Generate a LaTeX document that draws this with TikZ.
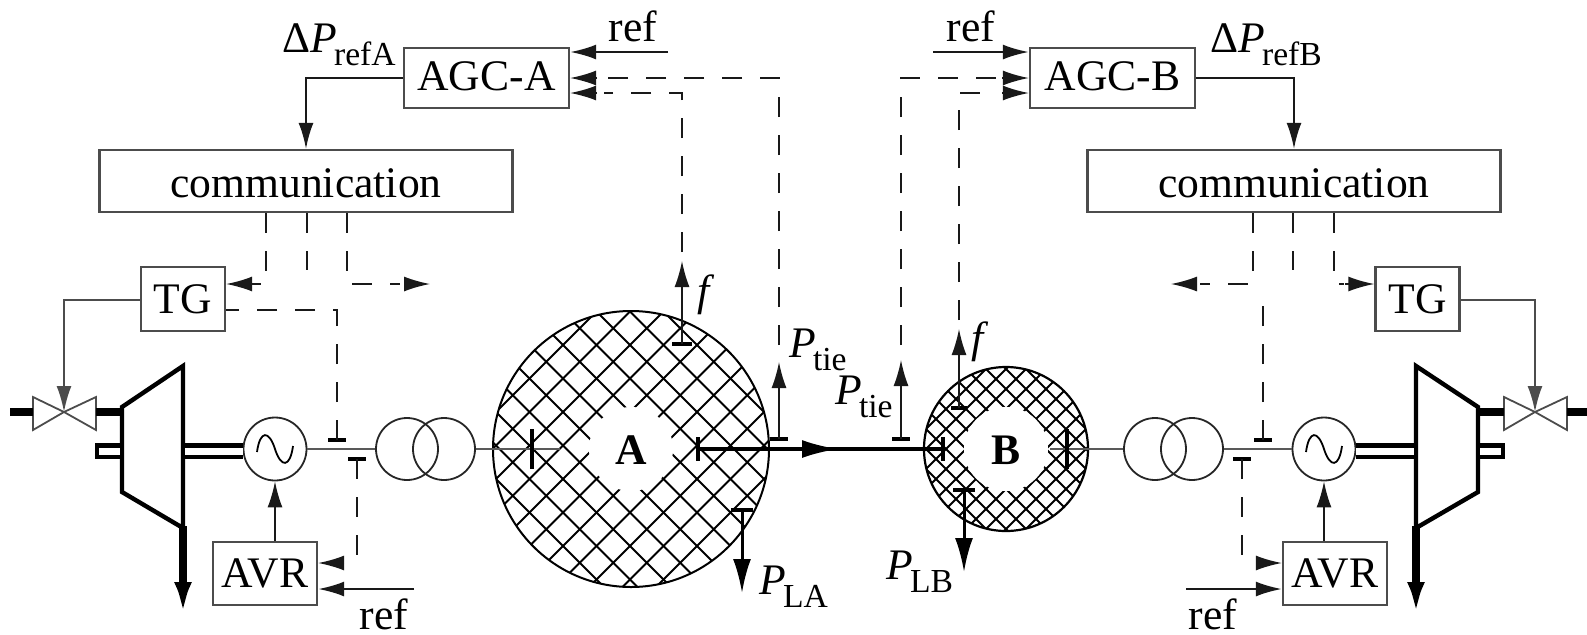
\documentclass[tikz,border=0pt]{standalone}
\usepackage{fontspec}
\setmainfont{Liberation Serif}
\usetikzlibrary{arrows.meta,calc}
\newcommand{\lowtxt}[1]{\kern-1.5pt\raisebox{-0.3em}{\fontsize{16.8}{18}\selectfont #1}}
\newcommand{\movetxt}[2]{\raisebox{#1}[\height][\depth]{#2}}
\tikzset{
  x=0.5pt,y=-0.5pt,
  every node/.style={font=\fontsize{21.8}{24}\selectfont,inner sep=0pt},
  boxn/.style={draw=black!70,line width=1.2pt,fill=white,minimum width=#1,minimum height=30pt,rectangle},
  roundn/.style={circle,draw=black!85,line width=0.9pt,fill=white,minimum size=31.5pt},
  tip/.style={-{Latex[length=13pt,width=7.5pt]}},
  sig/.style={tip,line width=0.8pt,black!90},
  loadarrow/.style={-{Latex[length=17pt,width=9pt]},line width=1.5pt},
  dsh/.style={line width=0.8pt,black!90,dash pattern=on 10pt off 9pt},
  bar/.style={line width=1.6pt},
  thk/.style={line width=4.4pt},
  wire/.style={line width=1.1pt,black!65},
}
\begin{document}
\begin{tikzpicture}
\useasboundingbox (0,0) rectangle (1587,634);
% hatched areas
\coordinate (CA) at (631,449);
\coordinate (CB) at (1006,449);
\begin{scope}
  \clip (CA) circle[radius=138];
  \foreach \k in {-10,...,10}{
    \draw[line width=1pt] ($(CA)+(33.5*\k+2.5-300,-300)$) -- ($(CA)+(33.5*\k+2.5+300,300)$);
    \draw[line width=1pt] ($(CA)+(33.5*\k-4.5-300,300)$) -- ($(CA)+(33.5*\k-4.5+300,-300)$);
  }
\end{scope}
\begin{scope}
  \clip (CB) circle[radius=82];
  \foreach \k in {-10,...,10}{
    \draw[line width=1pt] ($(CB)+(20*\k-200,-200)$) -- ($(CB)+(20*\k+200,200)$);
    \draw[line width=1pt] ($(CB)+(20*\k-200,200)$) -- ($(CB)+(20*\k+200,-200)$);
  }
\end{scope}
\fill[white] (CA) circle[radius=42];
\fill[white] (CB) circle[radius=42];
\draw[line width=1pt] (CA) circle[radius=138];
\draw[line width=1.1pt] (CB) circle[radius=82];
\node[font=\fontsize{21.8}{24}\selectfont\bfseries] (labA) at (631,450) {A};
\node[font=\fontsize{21.8}{24}\selectfont\bfseries] (labB) at (1006,450) {B};

% boxes
\node[boxn=82.5pt] (agca) at (486.5,78) {\movetxt{0.7pt}{AGC-A}};
\node[boxn=82.5pt] (agcb) at (1112.5,78) {\movetxt{0.7pt}{AGC-B}};
\node[boxn=206.5pt,minimum height=31pt] (coma) at (306,181) {\movetxt{-1pt}{communication}};
\node[boxn=206.5pt,minimum height=31pt] (comb) at (1294,181) {\movetxt{-1pt}{communication}};
\node[boxn=42pt,minimum height=32pt] (tga) at (183,299) {TG};
\node[boxn=42pt,minimum height=32pt] (tgb) at (1417.5,299) {TG};
\node[boxn=52pt,minimum height=31.5pt] (avra) at (265,573.5) {AVR};
\node[boxn=52pt,minimum height=31.5pt] (avrb) at (1335,573.5) {AVR};

% electric lines left and right
\node[roundn] (gena) at (275,449) {};
\node[roundn] (genb) at (1324,449) {};
\foreach \g in {gena,genb}{
  \draw[line width=0.9pt] ($(\g.center)+(-18,3)$) .. controls ($(\g.center)+(-15,-19)$) and ($(\g.center)+(-6,-19)$) .. (\g.center) .. controls ($(\g.center)+(6,19)$) and ($(\g.center)+(15,19)$) .. ($(\g.center)+(18,-3)$);
}
\node[circle,draw=black!85,line width=0.9pt,minimum size=31pt] (tra1) at (407,449) {};
\node[circle,draw=black!85,line width=0.9pt,minimum size=31pt] (tra2) at (444,449) {};
\node[circle,draw=black!85,line width=0.9pt,minimum size=31pt] (trb1) at (1155,449) {};
\node[circle,draw=black!85,line width=0.9pt,minimum size=31pt] (trb2) at (1192,449) {};
\coordinate (aL) at (560,449);
\coordinate (bR) at (1050,449);
\draw[wire] (gena.east) -- (tra1.west);
\draw[wire] (tra2.east) -- (aL);
\draw[wire] (genb.west) -- (trb2.east);
\draw[wire] (trb1.west) -- (bR);
% breakers
\coordinate (aT) at (532,449);
\coordinate (bT) at (1067,449);
\draw[line width=1.7pt] ($(aT)+(0,-20)$) -- ($(aT)+(0,20)$);
\draw[line width=1.7pt] ($(bT)+(0,-20)$) -- ($(bT)+(0,20)$);
% tie line
\coordinate (tieA) at (698,449);
\coordinate (tieB) at (943,449);
\coordinate (tieM) at (838,449);
\draw[line width=1.7pt] (tieA) -- (tieB);
\draw[line width=1.5pt,{Latex[length=18pt,width=9pt]}-] (tieM) -- ($(tieM)+(-1,0)$);
\draw[line width=1.7pt] ($(tieA)+(0,-12)$) -- ($(tieA)+(0,12)$);
\draw[line width=1.7pt] ($(tieB)+(0,-12)$) -- ($(tieB)+(0,12)$);

% turbines
\draw[line width=2.2pt,line join=miter] (122,407) -- (183,366) -- (183,528) -- (122,492) -- cycle;
\draw[line width=2.2pt,line join=miter] (1478,407) -- (1416,366) -- (1416,528) -- (1478,492) -- cycle;
% shafts
\foreach \a/\b in {95/122,183/243,1356/1416,1478/1505}{
  \fill[black] (\a,443) rectangle (\b,459);
}
\fill[white] (99,447.5) rectangle (120,454.5);
\fill[white] (185,447.5) rectangle (243,454.5);
\fill[white] (1356,447.5) rectangle (1414,454.5);
\fill[white] (1480,447.5) rectangle (1501,454.5);
% valves
\coordinate (va) at (64,412);
\coordinate (vb) at (1535,412);
\draw[line width=0.9pt,black!70,fill=white] (va) -- (33,397) -- (33,430) -- cycle;
\draw[line width=0.9pt,black!70,fill=white] (va) -- (96,397) -- (96,430) -- cycle;
\draw[line width=0.9pt,black!70,fill=white] (vb) -- (1504,397) -- (1504,430) -- cycle;
\draw[line width=0.9pt,black!70,fill=white] (vb) -- (1567,397) -- (1567,430) -- cycle;
\draw[thk] (10,412) -- (33,412);
\draw[thk] (96,412) -- (122,412);
\draw[thk] (1478,412) -- (1504,412);
\draw[thk] (1567,412) -- (1587,412);
% exhausts
\coordinate (exa) at (183,618);
\coordinate (exb) at (1416,618);
\draw[line width=3.8pt,-{Latex[length=18pt,width=8.5pt]}] (183,526) -- (exa);
\draw[line width=3.8pt,-{Latex[length=18pt,width=8.5pt]}] (1416,526) -- (exb);

% TG to valve
\draw[sig,black!70,line width=1.1pt] (tga.west |- 0,300) -| (va);
\draw[sig,black!70,line width=1.1pt] (tgb.east |- 0,300) -| (vb);

% AVR to generator
\draw[sig] (gena.south |- avra.north) -- (gena.south);
\draw[sig] (genb.south |- avrb.north) -- (genb.south);

% ref arrows
\coordinate (rAa) at (668,52);
\coordinate (rAb) at (933,52);
\coordinate (rVa) at (414,589);
\coordinate (rVb) at (1186,589);
\draw[sig,line width=1.1pt] (rAa) -- (agca.east |- rAa);
\draw[sig,line width=1.1pt] (rAb) -- (agcb.west |- rAb);
\draw[sig,line width=1.1pt] (rVa) -- (avra.east |- rVa);
\draw[sig,line width=1.1pt] (rVb) -- (avrb.west |- rVb);

% Delta P
\draw[sig,line width=1pt] (agca.west) -| (coma.north);
\draw[sig,line width=1pt] (agcb.east) -| (comb.north);

% communication to governors
\coordinate (a1) at (266,284);
\coordinate (a2) at (307,270);
\coordinate (a3) at (347,284);
\coordinate (b1) at (1253,284);
\coordinate (b2) at (1293,270);
\coordinate (b3) at (1334,284);
\draw[dsh] (a2 |- coma.south) -- (a2);
\draw[dsh] (b2 |- comb.south) -- (b2);
\draw[dsh] (a1 |- coma.south) -- (a1) -- (256,284);
\draw[dsh] (b3 |- comb.south) -- (b3) -- (1344,284);
\draw[dsh] (a3 |- coma.south) -- (a3) -- (400,284);
\draw[dsh] (b1 |- comb.south) -- (b1) -- (1200,284);
\coordinate (a4) at (430,284);
\coordinate (b4) at (1171,284);
\draw[sig] (258,284) -- (tga.east |- a1);
\draw[sig] (1345,284) -- (tgb.west |- b3);
\draw[sig] (404,284) -- (a4);
\draw[sig] (1197,284) -- (b4);

% voltage measuring ticks
\coordinate (ta) at (337,440);
\coordinate (tb) at (1263,440);
\coordinate (ua) at (357,459);
\coordinate (ub) at (1242,459);
\coordinate (ka) at (337,310);
\draw[bar] ($(ta)+(-9,0)$) -- ($(ta)+(9,0)$);
\draw[bar] ($(tb)+(-9,0)$) -- ($(tb)+(9,0)$);
\draw[bar] ($(ua)+(-9,0)$) -- ($(ua)+(9,0)$);
\draw[bar] ($(ub)+(-9,0)$) -- ($(ub)+(9,0)$);
\draw[dsh] (ta) -- (ka) -- (tga.east |- ka);
\draw[dsh] (tb) -- (1263,305);
\draw[dsh] (ua) -- (357,557);
\draw[dsh] (ub) -- (1242,557);
\draw[sig] (344,563) -- (avra.east |- 0,563);
\draw[sig] (1257,563) -- (avrb.west |- 0,563);

% AGC measurements
\coordinate (fa) at (682,344);
\coordinate (fb) at (959,408);
\coordinate (pa) at (779,439);
\coordinate (pb) at (901,439);
\coordinate (la) at (742,510);
\coordinate (lb) at (964,490);
\draw[bar] ($(fa)+(-10,0)$) -- ($(fa)+(10,0)$);
\draw[bar] ($(fb)+(-8,0)$) -- ($(fb)+(8,0)$);
\draw[bar] ($(pa)+(-9,0)$) -- ($(pa)+(9,0)$);
\draw[bar] ($(pb)+(-9,0)$) -- ($(pb)+(9,0)$);
\draw[bar] ($(la)+(-11,0)$) -- ($(la)+(11,0)$);
\draw[bar] ($(lb)+(-11,0)$) -- ($(lb)+(11,0)$);
\draw[sig] (fa) -- (682,261);
\draw[sig] (fb) -- (959,329);
\draw[sig] (pa) -- (779,362);
\draw[sig] (pb) -- (901,360);
\draw[loadarrow] (la) -- (742,593);
\draw[loadarrow] (lb) -- (964,572);
\draw[dsh] (682,252) -- (682,93) -- (604,93);
\draw[dsh] (779,345) -- (779,78) -- (604,78);
\draw[dsh] (959,320) -- (959,93) -- (997,93);
\draw[dsh] (901,345) -- (901,78) -- (997,78);
\draw[sig] (597,93) -- (agca.east |- 0,93);
\draw[sig] (597,78) -- (agca.east |- 0,78);
\draw[sig] (1002,93) -- (agcb.west |- 0,93);
\draw[sig] (1002,78) -- (agcb.west |- 0,78);

% labels
\node (t1) at (633,26) {ref};
\node (t2) at (971,26) {ref};
\node (t3) at (384,614) {ref};
\node (t4) at (1213,614) {ref};
\node[anchor=base west] (t5) at (282,52) {Δ\textit{P}\lowtxt{refA}};
\node[anchor=base west] (t6) at (1210,52) {Δ\textit{P}\lowtxt{refB}};
\node (t7) at (706,295) {\textit{f}};
\node (t8) at (980,342) {\textit{f}};
\node[anchor=base west] (t9) at (789,357) {\textit{P}\lowtxt{tie}};
\node[anchor=base west] (t10) at (835,404) {\textit{P}\lowtxt{tie}};
\node[anchor=base west] (t11) at (759,594) {\textit{P}\lowtxt{LA}};
\node[anchor=base west] (t12) at (886,579) {\textit{P}\lowtxt{LB}};
\end{tikzpicture}
\end{document}
